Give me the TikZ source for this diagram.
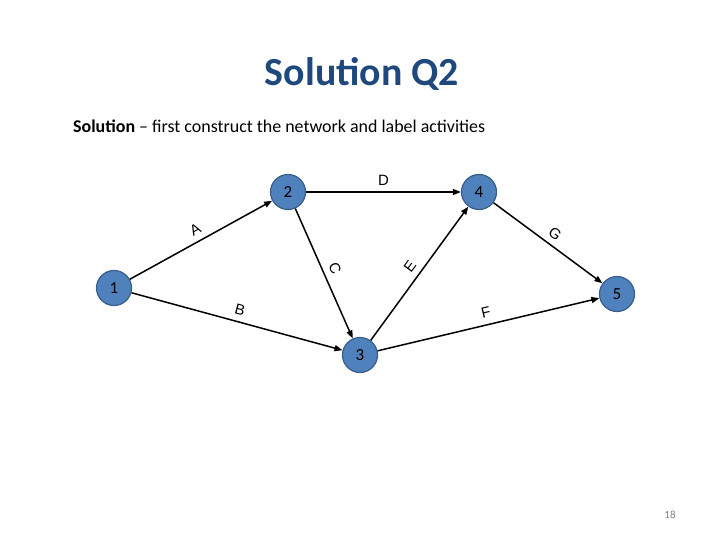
\documentclass[tikz,border=0pt]{standalone}
\usepackage{fontspec}
\setmainfont{Carlito}
\newfontfamily\labelfont{Liberation Sans}
\usepackage{xcolor}
\definecolor{cTitle}{HTML}{1F497D}
\definecolor{cNode}{HTML}{4F81BD}
\definecolor{cNodeLine}{HTML}{385D8A}
\definecolor{cGray}{HTML}{7F7F7F}
\usepackage{tikz}
\usetikzlibrary{arrows.meta}
\tikzset{
  event/.style={circle,draw=cNodeLine,fill=cNode,line width=1.2bp,
    minimum size=35bp,inner sep=0pt,font=\fontsize{17}{19}\selectfont},
  act/.style={-{Triangle[length=8bp,width=6bp]},line width=1.5bp,draw=black},
  act-label/.style={above,sloped,font=\fontsize{15}{17}\selectfont\labelfont,inner sep=6bp},
}

\begin{document}
\begin{tikzpicture}[x=1bp,y=-1bp]
  \useasboundingbox (0,0) rectangle (720,540);
  \node[font=\fontsize{40}{46}\selectfont\bfseries,text=cTitle] (title) at (362,74) {Solution Q2};
  \node[anchor=west,font=\fontsize{18}{21}\selectfont,inner sep=0pt] (sub) at (73,126)
    {\textbf{Solution} -- first construct the network and label activities};
  % events
  \node[event] (n1) at (114,288) {1};
  \node[event] (n2) at (288,192) {2};
  \node[event] (n4) at (479,192) {4};
  \node[event] (n3) at (360,355) {3};
  \node[event] (n5) at (617,294) {5};
  % activities
  \draw[act] (n1) -- node[act-label] {A} (n2);
  \draw[act] (n1) -- node[act-label] {B} (n3);
  \draw[act] (n2) -- node[act-label] {C} (n3);
  \draw[act] (n2) -- node[act-label] {D} (n4);
  \draw[act] (n3) -- node[act-label] {E} (n4);
  \draw[act] (n3) -- node[act-label] {F} (n5);
  \draw[act] (n4) -- node[act-label] {G} (n5);
  \node[text=cGray,font=\fontsize{11}{13}\selectfont] (page) at (670,515) {18};
\end{tikzpicture}
\end{document}
